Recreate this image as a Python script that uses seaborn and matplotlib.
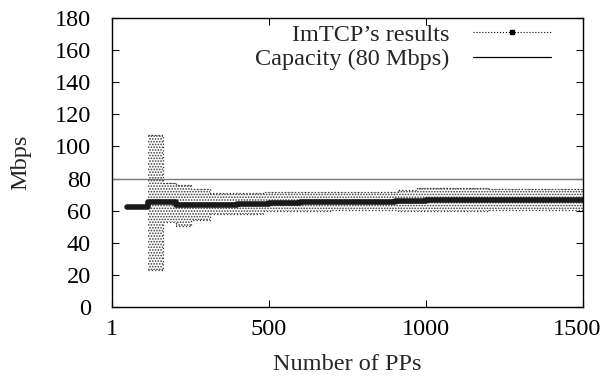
import matplotlib
matplotlib.use("Agg")
import matplotlib.pyplot as plt
from matplotlib.lines import Line2D
from matplotlib.transforms import ScaledTranslation
import numpy as np
import pandas as pd
import seaborn as sns

# Mean throughput measured by ImTCP vs. number of packet pairs
pp_mean = [50, 116, 204, 300, 400, 500, 600, 700, 800, 900, 1000, 1100, 1200, 1300, 1400, 1500]
mbps_mean = [62.0, 65.5, 63.5, 63.8, 64.4, 64.9, 65.2, 65.5, 65.7, 66.0, 66.4, 66.5, 66.6, 66.6, 66.6, 66.6]

# Spread of the results (step boundaries, lower / upper limits)
pp_band = [116, 163, 206, 254, 312, 481, 700, 911, 972, 1200, 1500]
band_low = [23.0, 53.0, 50.5, 54.0, 58.0, 59.5, 60.3, 60.0, 59.8, 60.2, 60.4]
band_high = [107.0, 77.0, 76.0, 73.5, 71.0, 71.5, 71.8, 72.6, 74.0, 73.4, 72.8]

capacity = 80
x_ticks = [1, 500, 1000, 1500]
y_ticks = list(range(0, 181, 20))

FS = 17.5

sns.set_theme(style="ticks")
plt.rcParams["font.family"] = ["Liberation Serif", "DejaVu Serif"]
plt.rcParams["hatch.linewidth"] = 0.8

fig = plt.figure(figsize=(6.05, 3.78), dpi=100)
ax = fig.add_axes([0.185, 0.188, 0.779, 0.764])

# dotted band of the results' spread
ax.fill_between(pp_band, band_low, band_high, step="post", facecolor="white",
                edgecolor="#3a3a3a", hatch="......", linewidth=0, zorder=1)
ax.step(pp_band, band_high, where="post", color="#333333", lw=0.9, ls=":", zorder=2)
ax.step(pp_band, band_low, where="post", color="#333333", lw=0.9, ls=":", zorder=2)

# capacity line
ax.axhline(capacity, color="#777777", lw=1.0, zorder=2)

# mean line
df = pd.DataFrame({"pp": pp_mean, "mbps": mbps_mean})
sns.lineplot(data=df, x="pp", y="mbps", ax=ax, color="#1a1a1a", lw=4.0,
             drawstyle="steps-post", zorder=3)

ax.set_xlim(1, 1500)
ax.set_ylim(0, 180)
ax.set_xticks(x_ticks)
ax.set_yticks(y_ticks)
ax.tick_params(axis="both", direction="in", top=True, right=True, length=5, width=0.8,
               labelsize=FS, colors="black")
ax.tick_params(axis="y", pad=15)
ax.tick_params(axis="x", pad=9)
for s in ax.spines.values():
    s.set_linewidth(1.0)
    s.set_color("black")
ax.set_xlabel("Number of PPs", fontsize=FS, labelpad=10)
ax.set_ylabel("Mbps", fontsize=FS, labelpad=17)

# keep the rightmost tick label inside the figure
last = ax.get_xticklabels()[-1]
last.set_transform(last.get_transform() + ScaledTranslation(-6 / 100, 0, fig.dpi_scale_trans))

handles = [
    Line2D([0], [0], color="black", lw=0.8, ls=":", marker="s", markersize=2.5),
    Line2D([0], [0], color="black", lw=0.9),
]
ax.legend(handles, ["ImTCP\u2019s results", "Capacity (80 Mbps)"], loc="upper right",
          frameon=False, markerfirst=False, fontsize=FS, handlelength=3.2,
          handletextpad=1.0, numpoints=1, bbox_to_anchor=(0.932, 0.98),
          labelspacing=0.1, borderaxespad=0.0, borderpad=0.0)

fig.savefig("out.png", dpi=100)
